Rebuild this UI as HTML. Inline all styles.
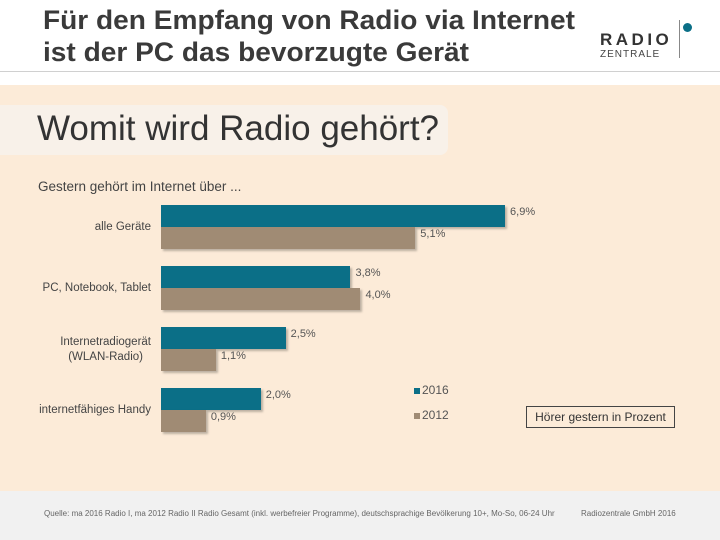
<!DOCTYPE html>
<html><head><meta charset="utf-8"><style>
body{margin:0;width:720px;height:540px;position:relative;overflow:hidden;background:#fff;font-family:"Liberation Sans",sans-serif}
div,span{position:absolute}
</style></head><body>
<div style="left:43px;top:4px;font-size:27px;line-height:32px;color:#3a3a3a;font-weight:bold;white-space:nowrap;transform:scaleX(1.04);transform-origin:left">Für den Empfang von Radio via Internet<br>ist der PC das bevorzugte Gerät</div>
<div style="left:600px;top:18px;width:100px;height:42px">
 <span style="left:0;top:12px;font-size:17px;font-weight:bold;letter-spacing:3.5px;color:#333">RADIO</span>
 <span style="left:0;top:31px;font-size:10px;letter-spacing:1px;color:#444">ZENTRALE</span>
 <span style="left:79px;top:2px;width:1px;height:38px;background:#888"></span>
 <span style="left:83px;top:5px;width:9px;height:9px;border-radius:50%;background:#0b6f87"></span>
</div>
<div style="left:0;top:71px;width:720px;height:1px;background:#d0d0d0"></div>
<div style="left:0;top:85px;width:720px;height:406px;background:#fcebd8"></div>
<div style="left:0;top:105px;width:448px;height:50px;background:#f8f1e9;border-radius:0 8px 8px 0"></div>
<div style="left:37px;top:109px;font-size:35px;color:#333;white-space:nowrap">Womit wird Radio gehört?</div>
<div style="left:38px;top:179px;font-size:13.5px;color:#444">Gestern gehört im Internet über ...</div>
<div id="chart" style="left:0;top:0;width:720px;height:491px"></div>
<div style="left:414px;top:383px;font-size:12px;color:#555"><span style="position:relative;display:inline-block;width:6px;height:6px;background:#0b6f87;margin-right:2px"></span>2016</div>
<div style="left:414px;top:408px;font-size:12px;color:#555"><span style="position:relative;display:inline-block;width:6px;height:6px;background:#a08b74;margin-right:2px"></span>2012</div>
<div style="left:526px;top:406px;width:147px;height:20px;border:1px solid #444;font-size:12px;line-height:20px;text-align:center;color:#333">Hörer gestern in Prozent</div>
<div style="left:0;top:491px;width:720px;height:49px;background:#f1f1f1"></div>
<div style="left:44px;top:509px;font-size:8px;color:#666">Quelle: ma 2016 Radio I, ma 2012 Radio II Radio Gesamt (inkl. werbefreier Programme), deutschsprachige Bevölkerung 10+, Mo-So, 06-24 Uhr</div>
<div style="left:581px;top:509px;font-size:8px;color:#666">Radiozentrale GmbH 2016</div>
<script>
const categories=["alle Geräte","PC, Notebook, Tablet","Internetradiogerät<br>(WLAN-Radio)","internetfähiges Handy"];
const values2016=[6.9,3.8,2.5,2.0];
const values2012=[5.1,4.0,1.1,0.9];
const chart=document.getElementById('chart');
const x=v=>v*49.86;
const y=i=>205+i*61;
function add(html,css){const d=document.createElement('div');d.innerHTML=html;d.style.cssText=css;chart.appendChild(d);return d;}
categories.forEach((c,i)=>{
 const l=add(c,`right:${720-151}px;top:${y(i)+(i==2?8:15)}px;font-size:11.5px;color:#444;text-align:center;white-space:nowrap;line-height:15px`);
 
 
 [[values2016[i],'#0b6f87',0],[values2012[i],'#a08b74',22]].forEach(([v,col,off])=>{
  const b=add('',`left:161px;top:${y(i)+off}px;width:${x(v)}px;height:22px;background:${col};box-shadow:2px 2px 2px rgba(0,0,0,0.25)`);
  
  
  const t=add(v.toFixed(1).replace('.',',')+'%',`left:${161+x(v)+5}px;top:${y(i)+off+1}px;font-size:11px;color:#555`);
  
  
 });
});
</script>
</body></html>
